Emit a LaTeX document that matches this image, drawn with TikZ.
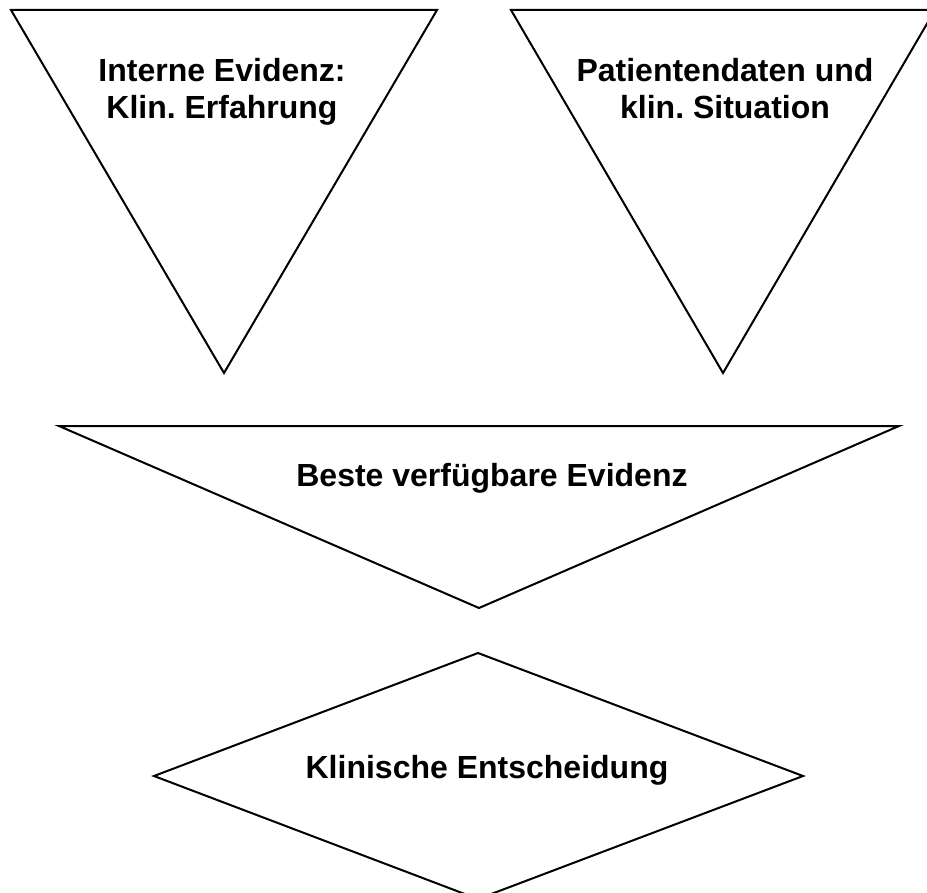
\documentclass[tikz,border=0pt]{standalone}
\usepackage{fontspec}
\setmainfont{Liberation Sans}
\usetikzlibrary{positioning}
\frenchspacing
\tikzstyle{outline} = [draw=black, line width=1.5pt, line join=miter]
\tikzstyle{txt} = [font=\bfseries\fontsize{24}{27.75}\selectfont, align=center, inner sep=0pt, anchor=base]

\begin{document}
\begin{tikzpicture}[x=0.75pt, y=-0.75pt]
\useasboundingbox (0,0) rectangle (927,892);
\clip (0,0) rectangle (927,892);
\coordinate (l1) at (11,10);
\coordinate (r1) at (437,10);
\coordinate (a1) at (224,373);
\coordinate (l2) at (511,10);
\coordinate (r2) at (935,10);
\coordinate (a2) at (723,373);
\coordinate (l3) at (59,426);
\coordinate (r3) at (899,426);
\coordinate (a3) at (479,608);
\coordinate (dt) at (478,653);
\coordinate (dl) at (154,776);
\coordinate (dr) at (803,776);
\coordinate (db) at (478,899);
\draw[outline] (l1)--(r1)--(a1)--cycle;
\draw[outline] (l2)--(r2)--(a2)--cycle;
\draw[outline] (l3)--(r3)--(a3)--cycle;
\draw[outline] (dt)--(dr)--(db)--(dl)--cycle;
\node[txt] (intern) at (222,118) {Interne Evidenz:\\Klin. Erfahrung};
\node[txt] (patient) at (725,118) {Patientendaten und\\klin. Situation};
\node[txt] (beste) at (492,486) {Beste verfügbare Evidenz};
\node[txt] (entsch) at (487,778) {Klinische Entscheidung};
\end{tikzpicture}
\end{document}
